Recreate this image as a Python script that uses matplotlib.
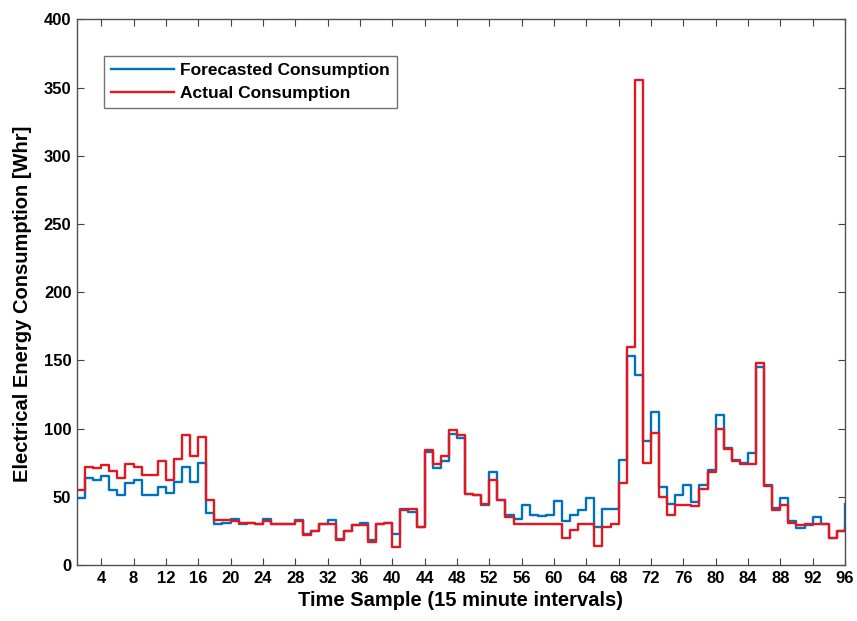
import numpy as np
import matplotlib
matplotlib.use("Agg")
import matplotlib.pyplot as plt

plt.rcParams["font.family"] = ["Liberation Sans", "DejaVu Sans"]
plt.rcParams["font.weight"] = "bold"

# time samples (15 minute intervals)
samples = np.arange(1, 97)

forecasted = [
    49, 64, 62, 65, 55, 51, 60, 62, 51, 51, 57, 53, 61, 72, 61, 75,
    38, 30, 31, 34, 30, 31, 30, 34, 30, 30, 30, 33, 23, 25, 30, 33,
    19, 25, 29, 31, 18, 30, 31, 23, 41, 39, 28, 83, 71, 76, 96, 93,
    52, 51, 44, 68, 48, 37, 34, 44, 37, 36, 37, 47, 32, 37, 40, 49,
    28, 41, 41, 77, 153, 139, 91, 112, 57, 45, 51, 59, 46, 59, 70, 110,
    86, 77, 75, 82, 145, 59, 42, 49, 32, 27, 29, 35, 30, 20, 25, 45,
]

actual = [
    55, 72, 71, 73, 69, 64, 74, 72, 66, 66, 76, 62, 78, 95, 80, 94,
    48, 33, 33, 32, 31, 31, 30, 32, 30, 30, 30, 32, 22, 25, 30, 30,
    18, 25, 29, 29, 17, 30, 31, 13, 40, 41, 28, 84, 74, 80, 99, 95,
    52, 51, 45, 62, 48, 35, 30, 30, 30, 30, 30, 30, 20, 26, 30, 30,
    14, 28, 30, 60, 160, 356, 75, 97, 50, 37, 44, 44, 43, 56, 68, 100,
    85, 76, 74, 74, 148, 58, 40, 44, 31, 29, 30, 30, 30, 20, 25, 27,
]

xticks = list(range(4, 97, 4))
yticks = list(range(0, 401, 50))

fig = plt.figure(figsize=(8.57, 6.21), dpi=100)
ax = fig.add_axes([0.0898, 0.0902, 0.8962, 0.8784])

ax.step(samples, forecasted, where="post", color="#0072BD", lw=1.7,
        label="Forecasted Consumption")
ax.step(samples, actual, where="post", color="#E3171F", lw=1.7,
        label="Actual Consumption")

ax.set_xlim(1, 96)
ax.set_ylim(0, 400)
ax.set_xticks(xticks)
ax.set_yticks(yticks)
ax.tick_params(direction="in", top=True, right=True, length=5,
               labelsize=12, color="#404040", pad=4)
for s in ax.spines.values():
    s.set_color("#505050")
    s.set_linewidth(1.0)

ax.set_xlabel("Time Sample (15 minute intervals)", fontsize=14.5, fontweight="bold", labelpad=4)
ax.set_ylabel("Electrical Energy Consumption [Whr]", fontsize=14.5, fontweight="bold")
ax.yaxis.set_label_coords(-0.059, 0.478)

leg = ax.legend(loc="upper left", bbox_to_anchor=(0.035, 0.933), borderaxespad=0,
                fancybox=False, edgecolor="#505050", fontsize=12.5,
                handlelength=3.6, handletextpad=0.35, labelspacing=0.4,
                borderpad=0.42)
leg.get_frame().set_linewidth(1.0)

fig.savefig("out.png", dpi=100)
